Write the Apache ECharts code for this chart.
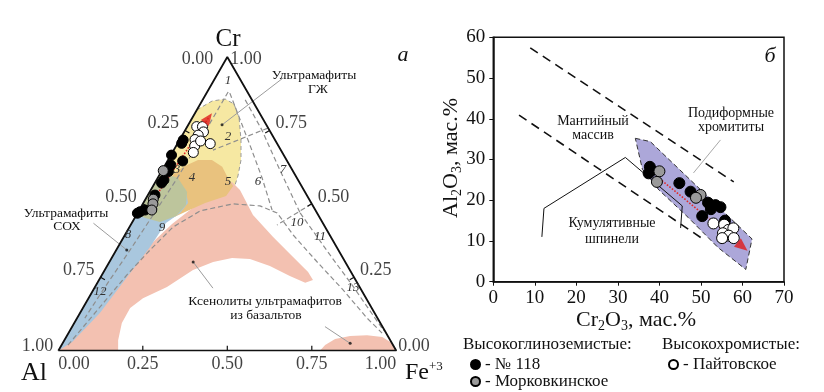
<!DOCTYPE html>
<html><head><meta charset="utf-8">
<script src="https://cdn.jsdelivr.net/npm/echarts@6/dist/echarts.min.js"></script>
<style>html,body{margin:0;padding:0;background:#fff}#c{width:824px;height:392px}</style>
</head><body><div id="c"></div>
<script>
// ===== (a) Ternary Al – Cr – Fe3+ : points stored as [Cr, Fe3+] fractions (Al = 1 - Cr - Fe) =====
const ternTicks = [0, 0.25, 0.5, 0.75, 1];
const ternVertices = [[0,0],[1,0],[0,1],[0,0]];
const tern118 = [[0.717,0.011],[0.706,0.012],[0.666,0.002],[0.632,0.017],[0.646,0.045],[0.610,0.021],[0.581,0.022],[0.571,0.020],[0.530,0.021],[0.473,0.005],[0.479,0.017],[0.468,0.000]];
const ternMork = [[0.613,0.004],[0.516,0.023],[0.500,0.030],[0.479,0.037]];
const ternPait = [[0.763,0.028],[0.763,0.045],[0.745,0.057],[0.734,0.047],[0.719,0.045],[0.705,0.097],[0.697,0.055],[0.675,0.062],[0.714,0.064]];
const ternTrend = [[0.792,0.048],[0.460,0.020]];
const ternArrow = [[0.792,0.048]];
const fieldGZh = [[0.82,0],[0.85,0.03],[0.857,0.065],[0.84,0.10],[0.792,0.139],[0.717,0.182],[0.649,0.216],[0.595,0.234],[0.554,0.243],[0.527,0.23],[0.513,0.163],[0.496,0.053],[0.517,0]];
const field4 = [[0.629,0.060],[0.649,0.089],[0.649,0.130],[0.626,0.172],[0.588,0.208],[0.561,0.237],[0.527,0.233],[0.503,0.183],[0.472,0.139],[0.452,0.111],[0.452,0.075],[0.496,0.038],[0.564,0.034],[0.608,0.041]];
const fieldSOX = [[0.608,0],[0.588,0.051],[0.547,0.104],[0.503,0.132],[0.469,0.126],[0.435,0.101],[0.353,0.095],[0.251,0.078],[0.128,0.059],[0.030,0.026],[0,0]];
const fieldOverlap = [[0.608,0],[0.588,0.06],[0.540,0.111],[0.496,0.130],[0.459,0.119],[0.438,0.082],[0.452,0.031],[0.465,0]];
const fieldXeno = [[0,0],[0.060,0.019],[0.145,0.036],[0.237,0.055],[0.316,0.078],[0.377,0.098],[0.431,0.121],[0.479,0.150],[0.520,0.180],[0.554,0.202],[0.574,0.227],[0.547,0.264],[0.462,0.345],[0.387,0.442],[0.319,0.535],[0.268,0.605],[0.241,0.633],[0.231,0.615],[0.254,0.558],[0.288,0.482],[0.312,0.411],[0.316,0.356],[0.302,0.307],[0.275,0.261],[0.217,0.213],[0.179,0.161],[0.145,0.140],[0.094,0.141],[0.036,0.159],[0,0.177]];
const fieldXeno2 = [[0,0.774],[0.019,0.780],[0.040,0.799],[0.050,0.838],[0.053,0.887],[0.047,0.935],[0.026,0.974],[0,1]];
const ternDashLines = [
  [[0.881,0.062],[0.717,0.061],[0.581,0.058],[0.513,0.053],[0.343,0.041],[0.207,0.029],[0.111,0.023]],
  [[0.019,0.019],[0.149,0.049],[0.258,0.074],[0.343,0.100],[0.421,0.129],[0.476,0.182],[0.500,0.267],[0.493,0.350],[0.469,0.413],[0.394,0.498],[0.302,0.615],[0.207,0.739],[0.111,0.858],[0.060,0.928]],
  [[0.877,0.069],[0.700,0.217],[0.588,0.309],[0.479,0.393]],
  [[0.854,0.126],[0.751,0.227],[0.615,0.348],[0.469,0.481]],
  [[0.758,0.241],[0.683,0.116]],
  [[0.500,0.500],[0.428,0.433]],
  [[0.469,0.481],[0.326,0.641],[0.224,0.757],[0.067,0.930]]
];
const ternPointers = [
  [[0.929,0.201],[0.769,0.100]],
  [[0.434,-0.113],[0.343,0.031]],
  [[0.213,0.351],[0.302,0.248]],
  [[0.082,0.748],[0.025,0.851]]
];

// ===== (б) Cr2O3 vs Al2O3, мас.% =====
const cr118 = [[37.7,28.2],[37.4,26.6],[38.1,27.3],[44.8,24.2],[47.5,22.1],[51.7,19.4],[53.5,18.8],[54.7,18.3],[52.4,17.8],[50.3,16.1],[55.8,15.0]];
const crMork = [[40.0,27.1],[39.4,24.5],[49.9,21.3],[48.8,20.6]];
const crPait = [[53.0,14.3],[55.6,14.0],[56.6,12.7],[57.8,13.1],[55.3,11.9],[56.7,11.3],[55.1,10.7],[57.9,10.7]];
const crTrend = [[39.4,25.8],[59.3,9.4]];
const crArrow = [[60.0,8.6]];
const podiform = [[34.2,35.2],[37.8,34.4],[62.3,10.5],[60.8,3.0],[54.1,8.4],[46.9,15.8],[39.9,22.5],[35.9,27.6]];
const upperDash = [[8.9,57.4],[57.9,24.5]];
const lowerDash = [[6.2,40.9],[50.3,10.6]];
const cumulateLine = [[11.7,11.0],[12.2,18.0],[31.8,30.5],[45.5,18.6],[45.1,13.2]];
const crPointer = [[54.7,34.8],[48.2,26.7]];

const FONT = '"Liberation Serif","DejaVu Serif",serif';
const toXY = p => [p[1] + p[0] / 2, p[0]];
const ident = p => p;

function poly(gi, pts, conv, style, z) {
  return {type:'custom', xAxisIndex:gi, yAxisIndex:gi, z:z, silent:true, data:[[0,0]],
    renderItem: function(params, api) {
      return {type:'polygon', shape:{points: pts.map(p => api.coord(conv(p)))}, style: style};
    }};
}
function line(gi, pts, conv, color, width, type, z) {
  return {type:'line', xAxisIndex:gi, yAxisIndex:gi, data: pts.map(conv), symbol:'none', silent:true,
    lineStyle:{color:color, width:width, type:type}, z:z};
}
function points(gi, name, data, conv, color, size) {
  return {type:'scatter', name:name, xAxisIndex:gi, yAxisIndex:gi, data:data.map(conv), symbol:'circle',
    symbolSize:size, itemStyle:{color:color, borderColor:'#000', borderWidth:1, opacity:1}, z:6};
}
function dot(gi, pts, conv, size) {
  return {type:'scatter', xAxisIndex:gi, yAxisIndex:gi, data:pts.map(conv), symbolSize:size, silent:true,
    itemStyle:{color:'#111'}, z:4};
}
function tickSeries(side, nx, ny) {
  return {type:'custom', xAxisIndex:0, yAxisIndex:0, silent:true, z:3,
    data: ternTicks.slice(1,4).map(t => side(t)),
    renderItem: function(params, api) {
      const p = api.coord([api.value(0), api.value(1)]);
      return {type:'line', shape:{x1:p[0], y1:p[1], x2:p[0]+nx*5, y2:p[1]+ny*5}, style:{stroke:'#111', lineWidth:1.2}};
    }};
}
const lblBase = {show:true, formatter:'{b}', fontSize:18, fontFamily:FONT, color:'#111'};
function labelSeries(items, label) {
  return {type:'scatter', xAxisIndex:0, yAxisIndex:0, symbolSize:0.1, silent:true, itemStyle:{color:'transparent'},
    data: items, label: Object.assign({}, lblBase, label), z:7};
}
function txt(x, y, text, size, extra) {
  return {type:'text', x:x, y:y, silent:true, z:100,
    style: Object.assign({text:text, fontSize:size, fontFamily:FONT, fill:'#111', align:'center', verticalAlign:'middle'}, extra || {})};
}
const fieldNum = (x, y, t) => txt(x, y, t, 13, {fontStyle:'italic', fill:'#333'});
function legendAt(left, top, name) {
  return {left:left, top:top, orient:'horizontal', icon:'circle', itemWidth:9, itemHeight:9, selectedMode:false,
    data:[name], formatter: nm => '- ' + nm, textStyle:{fontSize:17, fontFamily:FONT, color:'#111'}};
}

const series = [];
// ternary fields
series.push(poly(0, fieldGZh, toXY, {fill:'#f6e8a2', stroke:'#9a9a9a', lineWidth:1, lineDash:[4,3]}, 1));
series.push(poly(0, fieldXeno, toXY, {fill:'#f3c1b1'}, 1));
series.push(poly(0, fieldXeno2, toXY, {fill:'#f3c1b1'}, 1));
series.push(poly(0, field4, toXY, {fill:'#e9c27e'}, 1));
series.push(poly(0, fieldSOX, toXY, {fill:'#a9c7de'}, 1));
series.push(poly(0, fieldOverlap, toXY, {fill:'#bdc59c'}, 1));
ternDashLines.forEach(l => series.push(line(0, l, toXY, '#8e8e8e', 1.2, [5,3], 2)));
ternPointers.forEach(l => { series.push(line(0, l, toXY, '#9c9c9c', 1, 'solid', 2)); series.push(dot(0, [l[1]], toXY, 3)); });
series.push(line(0, ternVertices, toXY, '#111', 1.8, 'solid', 3));
series.push(tickSeries(t => toXY([1-t, 0]), 0.866, 0.5));
series.push(tickSeries(t => toXY([t, 1-t]), -0.866, 0.5));
series.push(tickSeries(t => toXY([0, t]), 0, -1));
series.push(line(0, ternTrend, toXY, '#e02a2a', 1.6, 'dotted', 4));
series.push(points(0, '№ 118', tern118, toXY, '#000', 10));
series.push(points(0, 'Морковкинское', ternMork, toXY, '#9a9a9a', 10));
series.push(points(0, 'Пайтовское', ternPait, toXY, '#fff', 10));
series.push({type:'scatter', xAxisIndex:0, yAxisIndex:0, data:ternArrow.map(toXY), symbol:'triangle', symbolSize:[10,12], symbolRotate:-36, itemStyle:{color:'#e01c1c'}, silent:true, z:7});
// ternary tick labels
const n = ternTicks.length;
series.push(labelSeries(ternTicks.map((a,i) => ({value: toXY([1-a,0]), name:a.toFixed(2),
  label: i===0 ? {distance:14, offset:[0,2]} : (i===n-1 ? {distance:5, offset:[0,-4]} : {})})),
  {position:'left', distance:6, offset:[0,-7]}));
series.push(labelSeries(ternTicks.map((c,i) => ({value: toXY([c,1-c]), name:c.toFixed(2),
  label: i===n-1 ? {distance:3, offset:[0,2]} : (i===0 ? {distance:2, offset:[0,-4]} : {})})),
  {position:'right', distance:6, offset:[0,-7]}));
series.push(labelSeries(ternTicks.map((f,i) => ({value: toXY([0,f]), name:f.toFixed(2),
  label: i===0 ? {align:'left'} : (i===n-1 ? {align:'right'} : {})})),
  {position:'bottom', distance:5}));

// right chart
series.push(poly(1, podiform, ident, {fill:'#aca7d9', stroke:'#333', lineWidth:1, lineDash:[5,3]}, 1));
series.push(line(1, upperDash, ident, '#111', 1.6, [9,6], 2));
series.push(line(1, lowerDash, ident, '#111', 1.6, [9,6], 2));
series.push(line(1, cumulateLine, ident, '#111', 1, 'solid', 2));
series.push(line(1, crPointer, ident, '#a8a8a8', 1, 'solid', 2));
series.push(line(1, crTrend, ident, '#e02a2a', 1.6, 'dotted', 4));
series.push(points(1, '№ 118', cr118, ident, '#000', 11));
series.push(points(1, 'Морковкинское', crMork, ident, '#9a9a9a', 11));
series.push(points(1, 'Пайтовское', crPait, ident, '#fff', 11));
series.push({type:'scatter', xAxisIndex:1, yAxisIndex:1, data:crArrow, symbol:'triangle', symbolSize:[11,13], symbolRotate:-129, itemStyle:{color:'#e01c1c'}, silent:true, z:7});

const axLbl = {fontSize:19, fontFamily:FONT, color:'#111'};
const sub = {fontSize:14, fontFamily:FONT, lineHeight:10, verticalAlign:'bottom', fill:'#111'};
const big = {fontSize:22, fontFamily:FONT, lineHeight:26, fill:'#111'};

const option = {
  animation:false,
  backgroundColor:'#fff',
  grid:[
    {left:58.3, top:57, width:338, height:293.7, show:false},
    {left:493.3, top:37.3, width:290.7, height:244.4, show:true, borderColor:'#111', borderWidth:1.5}
  ],
  xAxis:[
    {gridIndex:0, type:'value', min:0, max:1, show:false},
    {gridIndex:1, type:'value', min:0, max:70, interval:10, axisLine:{lineStyle:{color:'#111', width:1.5}},
      axisTick:{length:4, lineStyle:{color:'#111'}}, axisLabel:Object.assign({margin:7}, axLbl), splitLine:{show:false}}
  ],
  yAxis:[
    {gridIndex:0, type:'value', min:0, max:1, show:false},
    {gridIndex:1, type:'value', min:0, max:60, interval:10, axisLine:{show:true, lineStyle:{color:'#111', width:1.5}},
      axisTick:{show:true, length:4, lineStyle:{color:'#111'}}, axisLabel:Object.assign({margin:8}, axLbl), splitLine:{show:false}}
  ],
  legend:[
    legendAt(465, 351, '№ 118'),
    legendAt(465, 368, 'Морковкинское'),
    legendAt(663, 351, 'Пайтовское')
  ],
  graphic:[
    txt(228, 39, 'Cr', 25),
    txt(34, 373, 'Al', 26),
    txt(405, 373, '{a|Fe}{s|+3}', 24, {align:'left', rich:{a:{fontSize:24, fontFamily:FONT, lineHeight:26}, s:{fontSize:13, fontFamily:FONT, lineHeight:10, verticalAlign:'top'}}}),
    txt(403, 55, 'а', 22, {fontStyle:'italic'}),
    txt(770, 56, 'б', 22, {fontStyle:'italic'}),
    txt(314, 75, 'Ультрамафиты', 13.5),
    txt(318, 89, 'ГЖ', 13.5),
    txt(66, 213, 'Ультрамафиты', 13.5),
    txt(67, 226, 'СОХ', 13.5),
    txt(265, 301, 'Ксенолиты ультрамафитов', 13.5),
    txt(266, 315, 'из базальтов', 13.5),
    fieldNum(228, 81, '1'), fieldNum(228, 137, '2'), fieldNum(177, 170, '3'), fieldNum(192, 178, '4'),
    fieldNum(228, 182, '5'), fieldNum(258, 182, '6'), fieldNum(283, 170, '7'), fieldNum(128, 235, '8'),
    fieldNum(162, 228, '9'), fieldNum(297, 223, '10'), fieldNum(320, 237, '11'), fieldNum(100, 292, '12'),
    fieldNum(353, 288, '13'),
    txt(593, 121, 'Мантийный', 14),
    txt(593, 135, 'массив', 14),
    txt(731, 113, 'Подиформные', 14),
    txt(731, 127, 'хромититы', 14),
    txt(612, 223, 'Кумулятивные', 14),
    txt(612, 239, 'шпинели', 14),
    txt(636, 320, '{a|Cr}{s|2}{a|O}{s|3}{a|, мас.%}', 22, {rich:{a:big, s:sub}}),
    {type:'text', x:451, y:158, rotation:Math.PI/2, silent:true, z:100,
      style:{text:'{a|Al}{s|2}{a|O}{s|3}{a|, мас.%}', align:'center', verticalAlign:'middle', rich:{a:big, s:sub}}},
    txt(463, 345, 'Высокоглиноземистые:', 17, {align:'left'}),
    txt(662, 345, 'Высокохромистые:', 17, {align:'left'})
  ],
  series: series
};
const chart = echarts.init(document.getElementById('c'), null, {renderer:'canvas'});
chart.setOption(option);
</script></body></html>
